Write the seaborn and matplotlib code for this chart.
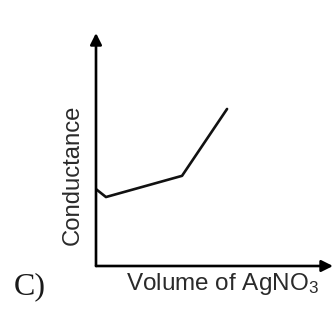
import matplotlib
matplotlib.use("Agg")
import matplotlib.pyplot as plt
import seaborn as sns
import pandas as pd

volume = [0.0, 0.42, 3.63, 5.53]
conductance = [3.30, 2.96, 3.87, 6.74]
x_label = "Volume of AgNO$_3$"
y_label = "Conductance"
panel_label = "C)"

sns.set_style("white")
plt.rcParams["font.family"] = ["Liberation Sans", "DejaVu Sans"]
plt.rcParams["mathtext.fontset"] = "custom"
plt.rcParams["mathtext.rm"] = "Liberation Sans"
plt.rcParams["mathtext.it"] = "Liberation Sans"

df = pd.DataFrame({"Volume": volume, "Conductance": conductance})

fig = plt.figure(figsize=(3.34, 3.09), dpi=100)
ax = fig.add_axes([96/334, (309-266)/309, (333-96)/334, (266-33)/309])
sns.lineplot(data=df, x="Volume", y="Conductance", ax=ax, color="#111111",
             linewidth=1.9, sort=False)
ax.set_xlim(0, 10)
ax.set_ylim(0, 10)
for s in ax.spines.values():
    s.set_visible(False)
ax.set_xticks([])
ax.set_yticks([])
ax.set_xlabel("")
ax.set_ylabel("")
ax.patch.set_alpha(0)

arrow = dict(arrowstyle="-|>", lw=1.9, color="black", mutation_scale=17,
             shrinkA=0, shrinkB=0)
ax.annotate("", xy=(0, 1), xytext=(0, 0), xycoords="axes fraction",
            arrowprops=arrow, annotation_clip=False)
ax.annotate("", xy=(1, 0), xytext=(0, 0), xycoords="axes fraction",
            arrowprops=arrow, annotation_clip=False)

fig.text(222/334, 1 - 284/309, x_label, ha="center", va="center",
         fontsize=17.5, color="#2a2a2a")
fig.text(73/334, 1 - 175/309, y_label, ha="center", va="center",
         rotation=90, fontsize=17.2, color="#2a2a2a")
fig.text(30/334, 1 - 287/309, panel_label, ha="center", va="center",
         fontsize=23, family="Liberation Serif", color="#1a1a1a")

fig.savefig("out.png", dpi=100)
